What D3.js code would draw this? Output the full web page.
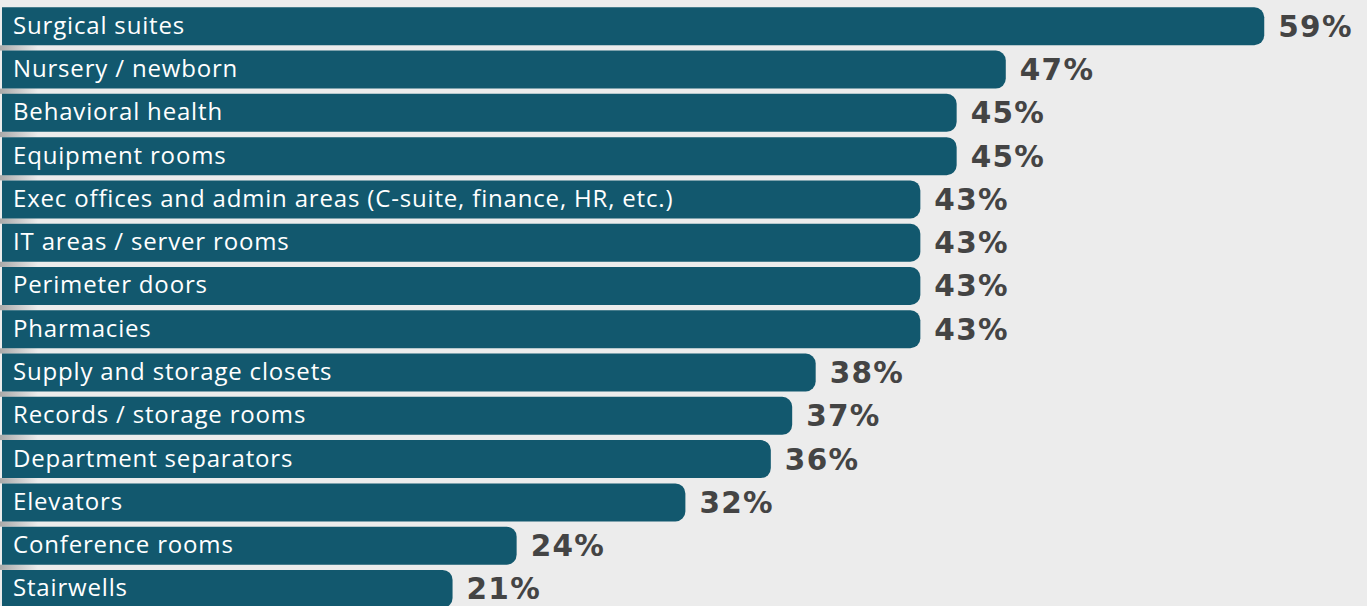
<!DOCTYPE html>
<html>
<head>
<meta charset="utf-8">
<script src="https://cdn.jsdelivr.net/npm/d3@7"></script>
<style>
  html, body { margin: 0; padding: 0; background: #ececec; }
  svg { display: block; }
</style>
</head>
<body>
<svg id="chart" width="1367" height="606"></svg>
<script>
const categories = [
  "Surgical suites",
  "Nursery / newborn",
  "Behavioral health",
  "Equipment rooms",
  "Exec offices and admin areas (C-suite, finance, HR, etc.)",
  "IT areas / server rooms",
  "Perimeter doors",
  "Pharmacies",
  "Supply and storage closets",
  "Records / storage rooms",
  "Department separators",
  "Elevators",
  "Conference rooms",
  "Stairwells"
];
const values = [59, 46.9, 44.6, 44.6, 42.9, 42.9, 42.9, 42.9, 38, 36.9, 35.9, 31.9, 24, 21];
const valueLabels = ["59%", "47%", "45%", "45%", "43%", "43%", "43%", "43%", "38%", "37%", "36%", "32%", "24%", "21%"];

const svg = d3.select("#chart");

const x = d3.scaleLinear().domain([0, 100]).range([4, 4 + 100 * 21.36]);
const y = d3.scaleBand()
  .domain(categories)
  .range([7.3, 7.3 + 13 * 43.28 + 38])
  .paddingInner(0.122)
  .paddingOuter(0);

const barH = y.bandwidth();
const barColor = "#12586e";
const r = 10;

const defs = svg.append("defs");
const grad = defs.append("linearGradient").attr("id", "gapShade").attr("x1", 0).attr("x2", 1).attr("y1", 0).attr("y2", 0);
grad.append("stop").attr("offset", 0).attr("stop-color", "#a9a9a9");
grad.append("stop").attr("offset", 1).attr("stop-color", "#ececec");

function barPath(x0, x1, y0, h) {
  const rr = Math.min(r, (x1 - x0) / 2, h / 2);
  return `M${x0},${y0} H${x1 - rr} A${rr},${rr} 0 0 1 ${x1},${y0 + rr} V${y0 + h - rr} A${rr},${rr} 0 0 1 ${x1 - rr},${y0 + h} H${x0} Z`;
}

// soft shading in the gaps at the left edge
svg.append("g").selectAll("rect.gap").data(categories.slice(1)).join("rect")
  .attr("class", "gap")
  .attr("x", 0)
  .attr("width", 38)
  .attr("y", d => y(d) - (y.step() - barH))
  .attr("height", y.step() - barH)
  .attr("fill", "url(#gapShade)");

const rows = svg.append("g").selectAll("g.row").data(categories).join("g").attr("class", "row");

rows.append("path")
  .attr("d", (d, i) => barPath(2, x(values[i]), y(d), barH))
  .attr("fill", barColor);

rows.append("text")
  .attr("x", 13)
  .attr("y", d => y(d) + barH / 2 + 7.5)
  .attr("fill", "#ffffff")
  .attr("font-family", "'Open Sans', 'Noto Sans', sans-serif")
  .attr("font-size", 24)
  .attr("letter-spacing", 0.83)
  .text(d => d);

rows.append("text")
  .attr("x", (d, i) => x(values[i]) + 14)
  .attr("y", d => y(d) + barH / 2 + 10.5)
  .attr("fill", "#444444")
  .attr("font-family", "'DejaVu Sans', sans-serif")
  .attr("font-weight", "bold")
  .attr("font-size", 29.5)
  .attr("letter-spacing", 1.3)
  .text((d, i) => valueLabels[i]);
</script>
</body>
</html>
